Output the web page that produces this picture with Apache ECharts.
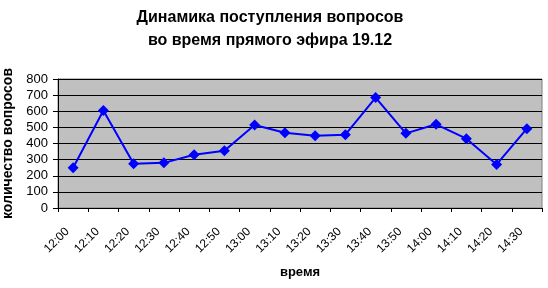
<!DOCTYPE html>
<html>
<head>
<meta charset="utf-8">
<script src="https://cdn.jsdelivr.net/npm/echarts@6/dist/echarts.min.js"></script>
<style>html,body{margin:0;padding:0;background:#fff;}#c{width:548px;height:288px;}</style>
</head>
<body>
<div id="c"></div>
<script>
var categories = ['12:00','12:10','12:20','12:30','12:40','12:50','13:00','13:10','13:20','13:30','13:40','13:50','14:00','14:10','14:20','14:30'];
var questions = [250, 605, 275, 280, 330, 355, 515, 467, 448, 455, 685, 463, 519, 430, 270, 492];
var titleText = 'Динамика поступления вопросов\nво время прямого эфира 19.12';
var xName = 'время';
var yName = 'количество вопросов';

var chart = echarts.init(document.getElementById('c'), null, {renderer: 'canvas'});
var font = 'Liberation Sans, Arial, sans-serif';
chart.setOption({
  animation: false,
  backgroundColor: '#ffffff',
  title: {
    text: titleText,
    left: 265, top: 1, textAlign: 'center',
    textStyle: {fontFamily: font, fontSize: 16, fontWeight: 'bold', color: '#000', lineHeight: 23}
  },
  grid: {
    left: 58, right: 6, top: 79, bottom: 80,
    outerBoundsMode: 'none', containLabel: false,
    show: true, backgroundColor: '#c0c0c0', borderColor: '#808080', borderWidth: 1
  },
  xAxis: {
    type: 'category', data: categories, boundaryGap: true,
    name: xName, nameLocation: 'middle', nameGap: 58,
    nameTextStyle: {fontFamily: font, fontSize: 13, fontWeight: 'bold', color: '#000'},
    axisLine: {lineStyle: {color: '#000', width: 1}},
    axisTick: {show: true, length: 4, lineStyle: {color: '#000'}, alignWithLabel: false},
    axisLabel: {rotate: 45, interval: 0, margin: 16, padding: [0, 8, 0, 0], fontFamily: font, fontSize: 12, color: '#000'}
  },
  yAxis: {
    type: 'value', min: 0, max: 800, interval: 100,
    name: yName, nameLocation: 'middle', nameGap: 38, nameRotate: 90,
    nameTextStyle: {fontFamily: font, fontSize: 14, fontWeight: 'bold', color: '#000'},
    axisLine: {show: true, lineStyle: {color: '#000', width: 1}},
    axisTick: {show: true, length: 5, lineStyle: {color: '#000'}},
    axisLabel: {margin: 10, fontFamily: font, fontSize: 13, color: '#000'},
    splitLine: {show: true, lineStyle: {color: '#000', width: 1}}
  },
  series: [{
    type: 'line', data: questions,
    symbol: 'diamond', symbolSize: 11,
    lineStyle: {color: '#0000ff', width: 2},
    itemStyle: {color: '#0000ff'}
  }]
});
</script>
</body>
</html>
